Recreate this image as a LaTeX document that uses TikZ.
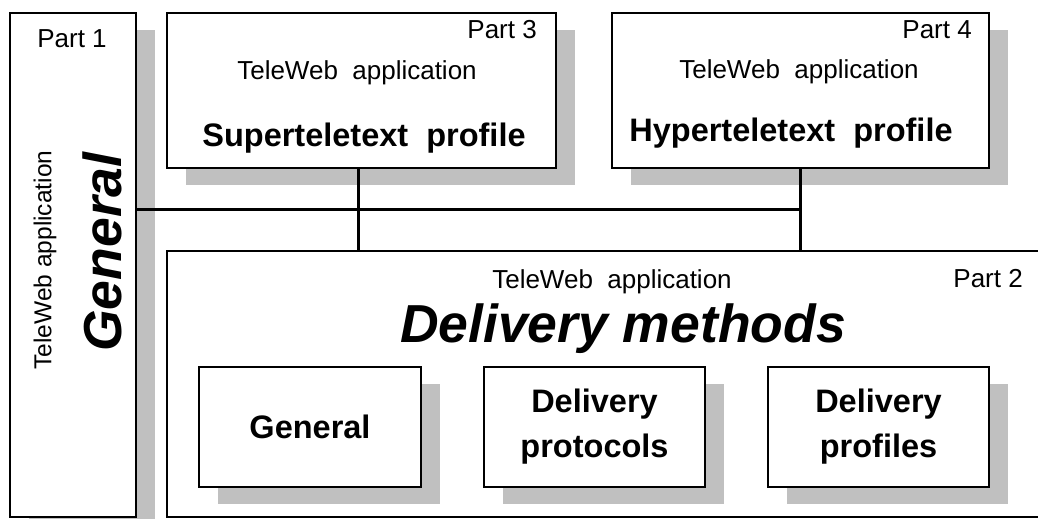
\documentclass[tikz,border=0pt]{standalone}
\usepackage{fontspec}
\setmainfont{Liberation Sans}
\usetikzlibrary{shadows, positioning}
\definecolor{shadowgray}{RGB}{192,192,192}
\tikzset{
  box/.style={
    draw=black,
    line width=1.5pt,
    fill=white,
    inner sep=0pt,
    align=center
  },
  shadowbox/.style={box, drop shadow={shadow xshift=19pt, shadow yshift=-17pt, fill=shadowgray, opacity=1}},
  tag/.style={font=\fontsize{26}{30}\selectfont, inner sep=0pt},
  app/.style={font=\fontsize{26}{30}\selectfont, inner sep=0pt},
  sideapp/.style={font=\fontsize{24.5}{28}\selectfont, inner sep=0pt, rotate=90},
  profile/.style={font=\bfseries\fontsize{32.5}{45}\selectfont, inner sep=0pt},
  title/.style={font=\bfseries\itshape\fontsize{53.5}{60}\selectfont, inner sep=0pt},
  bus/.style={line width=3pt, draw=black}
}

\begin{document}
\begin{tikzpicture}[x=1pt, y=-1pt]
  \useasboundingbox (0,0) rectangle (1038,519);

  \node[shadowbox, minimum width=126pt, minimum height=504pt] (part1) at (73,265) {};
  \node[shadowbox, minimum width=389pt, minimum height=155pt] (part3) at (361.5,90.5) {};
  \node[shadowbox, minimum width=377pt, minimum height=155pt] (part4) at (800.5,90.5) {};
  \node[box, minimum width=878pt, minimum height=266pt] (part2) at (606,384) {};

  \node[shadowbox, profile, minimum width=222pt, minimum height=120pt] (gensub) at (310,427) {General};
  \node[shadowbox, profile, minimum width=221pt, minimum height=120pt] (protocols) at (594.5,427) {Delivery\\protocols};
  \node[shadowbox, profile, minimum width=221pt, minimum height=120pt] (profiles) at (878.5,427) {Delivery\\profiles};

  \node[tag, anchor=base] (tag1) at (72,48) {Part 1};
  \node[sideapp] (app1) at (45,260) {TeleWeb application};
  \node[title, rotate=90] (title1) at (102,252) {General};

  \node[tag, anchor=base east] (tag3) at (537,39) {Part 3};
  \node[app, anchor=base] (app3) at (357,79) {TeleWeb\ \ application};
  \node[profile, anchor=base] (name3) at (364,146) {Superteletext\ \ profile};

  \node[tag, anchor=base east] (tag4) at (972,39) {Part 4};
  \node[app, anchor=base] (app4) at (799,78) {TeleWeb\ \ application};
  \node[profile, anchor=base] (name4) at (791,141) {Hyperteletext\ \ profile};

  \node[tag, anchor=base east] (tag2) at (1023,287) {Part 2};
  \node[app, anchor=base] (app2) at (612,288) {TeleWeb\ \ application};
  \node[title, anchor=base] (title2) at (623,342) {Delivery methods};

  \coordinate (busrow) at (0,209);
  \draw[bus] (part1.east |- busrow) -- (part4.south |- busrow);
  \draw[bus] ([xshift=-3.5pt]part3.south) -- ([xshift=-3.5pt]part3.south |- part2.north);
  \draw[bus] (part4.south) -- (part4.south |- part2.north);
\end{tikzpicture}
\end{document}
